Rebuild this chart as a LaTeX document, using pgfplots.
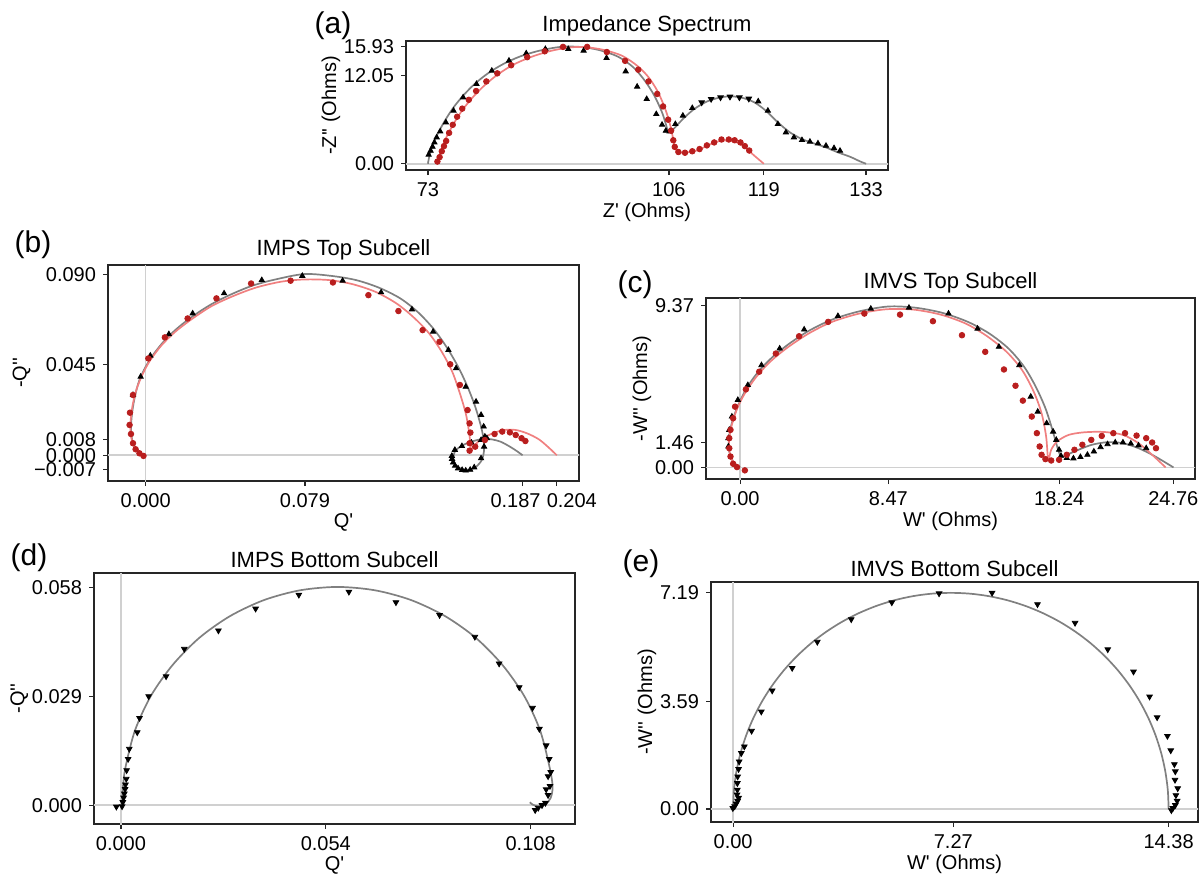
\documentclass[border=0pt]{standalone}
\usepackage{pgfplots}
\pgfplotsset{compat=1.18}
\usepackage{fontspec}
\setmainfont{Liberation Sans}
\definecolor{fitgray}{RGB}{128,128,128}
\definecolor{fitred}{RGB}{240,128,128}
\definecolor{ptred}{RGB}{185,30,30}
\definecolor{zerogray}{RGB}{208,208,208}
\newcommand{\sq}{\textquotesingle}
\tikzset{zl/.style={zerogray, line width=0.8pt}}
\pgfplotsset{
 panel/.style={scale only axis, anchor=south west,
   axis line style={black!85,line width=0.6pt},
   tick align=outside, tick pos=left, major tick length=2.5pt,
   every tick/.style={black!85,line width=0.6pt},
   tick label style={font=\fontsize{10}{12}\selectfont},
   label style={font=\fontsize{10}{12}\selectfont},
   title style={font=\fontsize{11}{13}\selectfont, yshift=-7pt},
   xlabel shift=-3.5pt, ylabel shift=-5pt,
   scaled ticks=false, clip=true},
 blk/.style={only marks, mark=triangle*, mark size=1.5pt, black},
 blkdn/.style={only marks, mark=triangle*, mark size=1.6pt, black, mark options={rotate=180}},
 redpt/.style={only marks, mark=*, mark size=1.4pt, ptred},
 grayfit/.style={no marks, smooth, tension=0.5, line width=0.85pt, fitgray},
 redfit/.style={no marks, smooth, tension=0.5, line width=0.85pt, fitred},
}
\begin{document}
\begin{tikzpicture}
\path[use as bounding box] (0,0) rectangle (601.5pt,-437.5pt);
\node[font=\fontsize{15}{18}\selectfont] at (166.5pt,-13pt) {(a)};
\node[font=\fontsize{15}{18}\selectfont] at (16.5pt,-122.5pt) {(b)};
\node[font=\fontsize{15}{18}\selectfont] at (317.5pt,-142.5pt) {(c)};
\node[font=\fontsize{15}{18}\selectfont] at (14.5pt,-279pt) {(d)};
\node[font=\fontsize{15}{18}\selectfont] at (320.5pt,-282pt) {(e)};

% ---------------- (a)
\begin{axis}[panel, at={(203pt,-85pt)}, width=241pt, height=64.5pt,
  xmin=70, xmax=136, ymin=-0.85, ymax=16.7,
  xtick={73,106,119,133}, xticklabels={73,106,119,133},
  ytick={0,12.05,15.93}, yticklabels={0.00,12.05,15.93},
  title={Impedance Spectrum}, xlabel={Z\sq{} (Ohms)}, ylabel={-Z\sq\sq{} (Ohms)}]
\draw[zl] (axis cs:0,0) -- (axis cs:200,0);
\addplot[blk] coordinates {(73.10,1.23) (73.37,1.77) (73.63,2.31) (73.89,2.90) (74.20,3.59) (74.68,4.40) (75.46,5.63) (76.51,7.22) (77.82,9.03) (79.65,10.85) (81.75,12.66) (84.10,14.03) (86.46,15.02) (89.08,15.61) (92.22,15.61) (94.32,15.39) (97.46,14.39) (100.08,12.57) (101.65,10.49) (102.96,8.81) (104.27,6.76) (105.06,5.31) (105.58,4.49) (106.10,4.40) (106.88,5.40) (107.91,6.54) (109.20,7.58) (118.23,8.49) (119.55,7.22) (120.92,5.40) (122.02,4.27) (123.12,3.59) (124.22,3.22) (125.31,3.00) (126.41,2.77) (127.51,2.45) (128.61,2.13) (129.43,1.77)};
\addplot[blkdn] coordinates {(110.49,8.35) (111.78,8.81) (113.07,9.03) (114.36,9.12) (115.65,9.03) (116.94,8.85)};
\addplot[redpt] coordinates {(74.3,0.3) (74.6,0.9) (74.9,1.7) (75.2,2.4) (75.5,3.1) (75.9,4.2) (76.4,5.3) (77.0,6.4) (77.7,7.5) (78.6,8.7) (79.6,9.9) (81.0,11.2) (82.5,12.3) (84.4,13.4) (86.6,14.5) (89.0,15.3) (91.5,15.9) (94.8,15.9) (97.5,15.2) (100.0,14.0) (101.8,12.8) (103.2,11.2) (104.4,9.5) (105.2,7.8) (105.9,6.0) (106.3,4.5) (106.6,3.2) (106.8,2.3) (107.3,1.6) (108.2,1.5) (109.2,1.7) (110.2,2.0) (111.2,2.5) (112.2,2.9) (113.2,3.3) (114.2,3.3) (115.0,3.2) (115.8,2.9) (116.4,2.4) (117.0,1.8)};
\addplot[grayfit] coordinates {(73.00,0.00) (73.16,0.86) (73.47,1.99) (74.00,3.36) (74.68,4.72) (75.46,6.08) (76.51,7.67) (77.82,9.26) (79.39,10.85) (81.22,12.30) (83.32,13.57) (85.68,14.62) (88.30,15.39) (91.18,15.90) (93.80,15.90) (96.41,15.48) (99.03,14.57) (101.13,13.12) (102.70,11.30) (104.01,9.26) (105.06,6.99) (105.58,5.40) (105.95,4.27) (106.62,4.72) (107.91,6.08) (109.46,7.44) (111.26,8.49) (113.07,9.03) (114.61,9.17) (116.16,8.94) (117.71,8.35) (119.27,7.22) (120.92,5.63) (122.57,4.27) (124.22,3.36) (125.86,2.77) (127.51,2.22) (129.16,1.54) (130.81,0.95) (132.18,0.32) (133.00,0.00)};
\addplot[redfit] coordinates {(74.31,0) (74.52,0.86) (74.83,1.86) (75.30,3.13) (75.99,4.49) (76.77,5.86) (77.82,7.44) (79.13,9.03) (80.70,10.62) (82.53,12.12) (84.63,13.44) (86.99,14.48) (89.60,15.30) (92.22,15.80) (94.32,15.88) (96.94,15.52) (99.55,14.71) (101.65,13.34) (103.22,11.76) (104.53,9.71) (105.58,7.22) (106.26,4.95) (106.62,3.13) (106.88,2.00) (107.39,1.54) (108.42,1.54) (109.97,1.86) (111.52,2.59) (113.07,3.13) (114.36,3.13) (115.65,2.77) (116.68,2.00) (117.71,1.09) (119.0,0)};
\end{axis}

% ---------------- (b)
\begin{axis}[panel, at={(54pt,-240.5pt)}, width=235.5pt, height=108pt,
  xmin=-0.0187, xmax=0.215, ymin=-0.0128, ymax=0.0947,
  xtick={0,0.079,0.187,0.204},
  xticklabels={0.000,0.079,\makebox[0pt]{\hspace*{-7pt}0.187},\makebox[0pt]{\hspace*{15pt}0.204}},
  ytick={-0.007,0,0.008,0.045,0.090}, yticklabels={−0.007,0.000,0.008,0.045,0.090},
  title={IMPS Top Subcell}, xlabel={Q\sq}, ylabel={-Q\sq\sq}]
\draw[zl] (axis cs:-1,0) -- (axis cs:1,0);
\draw[zl] (axis cs:0,-1) -- (axis cs:0,1);
\addplot[blk] coordinates {(-0.0063,0.0300) (-0.0025,0.0391) (0.0023,0.0496) (0.0115,0.0603) (0.0233,0.0706) (0.0389,0.0806) (0.0576,0.0872) (0.0777,0.0893) (0.0977,0.0869) (0.1168,0.0811) (0.1321,0.0726) (0.1426,0.0615) (0.1502,0.0524) (0.1540,0.0433) (0.1588,0.0341) (0.1639,0.0267) (0.1664,0.0201) (0.1677,0.0143) (0.1683,0.0093) (0.1679,0.0043) (0.1664,-0.0015) (0.1630,-0.0060) (0.1610,-0.0072) (0.1588,-0.0076) (0.1570,-0.0073) (0.1550,-0.0065) (0.1535,-0.0052) (0.1525,-0.0036) (0.1519,-0.0003) (0.1520,-0.0018) (0.1534,0.0027) (0.1569,0.0046) (0.1616,0.0063) (0.1664,0.0076) (0.1693,0.0085)};
\addplot[redpt] coordinates {(-0.0011,-0.0003) (-0.0031,0.0010) (-0.0050,0.0030) (-0.0063,0.0060) (-0.0073,0.0106) (-0.0080,0.0151) (-0.0078,0.0212) (-0.0063,0.0300) (0.0013,0.0482) (0.0095,0.0587) (0.0208,0.0681) (0.0351,0.0781) (0.0523,0.0855) (0.0719,0.0869) (0.0929,0.0860) (0.1105,0.0797) (0.1254,0.0718) (0.1374,0.0623) (0.1458,0.0565) (0.1511,0.0453) (0.1559,0.0350) (0.1597,0.0225) (0.1607,0.0159) (0.1611,0.0113) (0.1607,0.0060) (0.1607,0.0023) (0.1635,0.0043) (0.1683,0.0076) (0.1731,0.0106) (0.1769,0.0118) (0.1807,0.0114) (0.1836,0.0101) (0.1865,0.0085) (0.1884,0.0071)};
\addplot[grayfit] coordinates {(0.0000,0.0000) (-0.0031,0.0013) (-0.0053,0.0040) (-0.0067,0.0076) (-0.0073,0.0126) (-0.0071,0.0176) (-0.0063,0.0242) (-0.0050,0.0308) (-0.0031,0.0375) (0.0000,0.0441) (0.0042,0.0507) (0.0099,0.0577) (0.0166,0.0640) (0.0242,0.0698) (0.0328,0.0753) (0.0424,0.0801) (0.0529,0.0844) (0.0643,0.0875) (0.0786,0.0902) (0.0920,0.0893) (0.1044,0.0872) (0.1158,0.0834) (0.1263,0.0781) (0.1349,0.0714) (0.1426,0.0632) (0.1492,0.0540) (0.1550,0.0441) (0.1597,0.0341) (0.1635,0.0242) (0.1664,0.0143) (0.1677,0.0076) (0.1679,0.0027) (0.1668,-0.0023) (0.1635,-0.0060) (0.1588,-0.0073) (0.1546,-0.0056) (0.1527,-0.0023) (0.1534,0.0018) (0.1565,0.0046) (0.1611,0.0066) (0.1664,0.0080) (0.1712,0.0080) (0.1760,0.0068) (0.1802,0.0046) (0.1840,0.0022) (0.1870,0.0000)};
\addplot[redfit] coordinates {(-0.0011,0.0000) (-0.0034,0.0013) (-0.0057,0.0043) (-0.0071,0.0085) (-0.0076,0.0134) (-0.0073,0.0192) (-0.0063,0.0259) (-0.0044,0.0333) (-0.0015,0.0404) (0.0023,0.0474) (0.0080,0.0549) (0.0147,0.0615) (0.0233,0.0681) (0.0328,0.0743) (0.0433,0.0792) (0.0548,0.0835) (0.0672,0.0864) (0.0786,0.0875) (0.0910,0.0872) (0.1025,0.0852) (0.1139,0.0814) (0.1244,0.0756) (0.1330,0.0686) (0.1406,0.0607) (0.1469,0.0515) (0.1521,0.0416) (0.1559,0.0308) (0.1588,0.0209) (0.1603,0.0126) (0.1611,0.0060) (0.1616,0.0023) (0.1630,0.0046) (0.1664,0.0080) (0.1721,0.0109) (0.1779,0.0126) (0.1836,0.0126) (0.1893,0.0109) (0.1950,0.0080) (0.1998,0.0040) (0.2040,0.0000)};
\end{axis}

% ---------------- (c)
\begin{axis}[panel, at={(353pt,-239.5pt)}, width=244.5pt, height=90.5pt,
  xmin=-1.95, xmax=26.0, ymin=-0.67, ymax=9.79,
  xtick={0,8.47,18.24,24.76}, xticklabels={0.00,8.47,18.24,24.76},
  ytick={0,1.46,9.37}, yticklabels={0.00,1.46,9.37},
  title={IMVS Top Subcell}, xlabel={W\sq{} (Ohms)}, ylabel={-W\sq\sq{} (Ohms)}]
\draw[zl] (axis cs:-100,0) -- (axis cs:100,0);
\draw[zl] (axis cs:0,-100) -- (axis cs:0,100);
\addplot[blk] coordinates {(-0.67,1.21) (-0.67,1.69) (-0.62,2.17) (-0.47,2.94) (-0.13,3.90) (0.44,4.76) (1.22,5.91) (2.26,6.87) (3.66,7.97) (5.59,8.75) (7.47,9.17) (9.65,9.23) (11.91,8.89) (13.57,8.02) (14.79,6.97) (15.96,5.91) (16.61,4.09) (17.01,3.22) (17.52,2.55) (17.89,2.07) (18.07,1.59) (18.23,1.02) (18.34,0.67) (18.67,0.54) (19.05,0.52) (19.45,0.60) (19.85,0.73) (20.22,0.92) (20.60,1.17) (21.00,1.34) (21.44,1.44) (21.88,1.44) (22.33,1.38) (22.77,1.27) (23.21,1.11)};
\addplot[redpt] coordinates {(0.27,-0.17) (-0.18,0.02) (-0.40,0.21) (-0.55,0.63) (-0.62,1.11) (-0.62,1.69) (-0.55,2.17) (-0.40,2.84) (-0.29,3.51) (0.33,4.51) (1.09,5.53) (2.04,6.58) (3.37,7.58) (5.03,8.41) (7.10,8.89) (9.14,8.83) (11.02,8.45) (12.68,7.64) (14.01,6.68) (15.08,5.66) (15.74,4.72) (16.16,3.86) (16.67,2.94) (16.96,1.98) (17.12,1.21) (17.23,0.73) (17.45,0.48) (17.78,0.40) (18.23,0.44) (18.67,0.73) (19.11,1.02) (19.56,1.31) (20.07,1.59) (20.67,1.82) (21.33,1.98) (22.00,1.98) (22.66,1.84) (23.21,1.69) (23.55,1.44) (23.77,1.11)};
\addplot[grayfit] coordinates {(0.00,0.00) (-0.29,0.21) (-0.51,0.54) (-0.64,1.02) (-0.64,1.59) (-0.55,2.26) (-0.33,3.03) (-0.02,3.80) (0.42,4.66) (1.04,5.53) (1.82,6.35) (2.82,7.16) (3.92,7.89) (5.25,8.54) (6.81,9.02) (8.47,9.30) (10.02,9.23) (11.57,8.93) (13.02,8.41) (14.24,7.74) (15.34,6.87) (16.23,5.82) (16.90,4.66) (17.45,3.42) (17.85,2.17) (18.12,1.21) (18.34,0.63) (18.67,0.73) (19.34,1.02) (20.11,1.31) (21.00,1.46) (21.88,1.40) (22.77,1.11) (23.66,0.67) (24.77,0.00)};
\addplot[redfit] coordinates {(-0.07,0.00) (-0.35,0.25) (-0.55,0.63) (-0.64,1.21) (-0.60,1.88) (-0.44,2.59) (-0.16,3.42) (0.27,4.28) (0.93,5.24) (1.71,6.10) (2.71,6.93) (3.92,7.74) (5.25,8.41) (6.81,8.89) (8.36,9.14) (9.91,9.12) (11.46,8.83) (12.90,8.31) (14.12,7.58) (15.23,6.68) (16.12,5.62) (16.78,4.38) (17.23,3.13) (17.49,1.79) (17.61,0.44) (17.78,1.02) (18.12,1.50) (18.78,1.88) (19.67,2.03) (20.78,2.05) (21.88,1.88) (22.77,1.40) (23.55,0.73) (24.32,0.00)};
\end{axis}

% ---------------- (d)
\begin{axis}[panel, at={(47pt,-412pt)}, width=240.5pt, height=125.5pt,
  xmin=-0.0071, xmax=0.1197, ymin=-0.0050, ymax=0.0618,
  xtick={0,0.054,0.108}, xticklabels={0.000,0.054,0.108},
  ytick={0,0.029,0.058}, yticklabels={0.000,0.029,0.058},
  title={IMPS Bottom Subcell}, xlabel={Q\sq}, ylabel={-Q\sq\sq}]
\draw[zl] (axis cs:-1,0) -- (axis cs:1,0);
\draw[zl] (axis cs:0,-1) -- (axis cs:0,1);
\addplot[blkdn] coordinates {(-0.0012,-0.0004) (0.0003,-0.0003) (0.0005,0.0008) (0.0007,0.0020) (0.0009,0.0031) (0.0011,0.0043) (0.0012,0.0055) (0.0014,0.0070) (0.0015,0.0093) (0.0019,0.0123) (0.0022,0.0150) (0.0043,0.0194) (0.0049,0.0232) (0.0073,0.0290) (0.0119,0.0343) (0.0167,0.0416) (0.0257,0.0465) (0.0355,0.0523) (0.0469,0.0560) (0.0601,0.0568) (0.0725,0.0540) (0.0840,0.0506) (0.0933,0.0448) (0.0997,0.0377) (0.1050,0.0314) (0.1085,0.0259) (0.1103,0.0203) (0.1121,0.0159) (0.1129,0.0123) (0.1133,0.0088) (0.1126,0.0077) (0.1131,0.0051) (0.1121,0.0042) (0.1126,0.0027) (0.1119,0.0006) (0.1110,0.0000) (0.1100,-0.0007) (0.1092,-0.0013)};
\addplot[grayfit] coordinates {(0.0003,0.0000) (0.0005,0.0045) (0.0012,0.0101) (0.0037,0.0199) (0.0079,0.0291) (0.0136,0.0373) (0.0206,0.0445) (0.0287,0.0503) (0.0377,0.0546) (0.0472,0.0572) (0.0571,0.0581) (0.0670,0.0572) (0.0765,0.0546) (0.0855,0.0503) (0.0936,0.0445) (0.1006,0.0373) (0.1063,0.0291) (0.1105,0.0199) (0.1130,0.0101) (0.1138,0.0050) (0.1133,0.0020) (0.1120,0.0003) (0.1100,-0.0003) (0.1085,0.0002) (0.1078,0.0008)};
\end{axis}

% ---------------- (e)
\begin{axis}[panel, at={(355.5pt,-411pt)}, width=243.5pt, height=120pt,
  xmin=-0.73, xmax=15.35, ymin=-0.43, ymax=7.55,
  xtick={0,7.27,14.38}, xticklabels={0.00,7.27,14.38},
  ytick={0,3.59,7.19}, yticklabels={0.00,3.59,7.19},
  title={IMVS Bottom Subcell}, xlabel={W\sq{} (Ohms)}, ylabel={-W\sq\sq{} (Ohms)}]
\draw[zl] (axis cs:-100,0) -- (axis cs:100,0);
\draw[zl] (axis cs:0,-100) -- (axis cs:0,100);
\addplot[blkdn] coordinates {(-0.01,0.03) (0.05,0.09) (0.10,0.18) (0.15,0.27) (0.18,0.37) (0.13,0.48) (0.14,0.64) (0.14,0.86) (0.15,1.08) (0.18,1.33) (0.20,1.58) (0.27,1.86) (0.37,2.08) (0.61,2.60) (0.93,3.24) (1.29,3.94) (1.95,4.69) (2.78,5.56) (3.90,6.31) (5.24,6.87) (6.80,7.17) (8.55,7.19) (10.05,6.81) (11.29,6.19) (12.37,5.31) (13.22,4.57) (13.75,3.74) (14.00,3.05) (14.34,2.43) (14.45,1.95) (14.57,1.49) (14.60,1.25) (14.59,0.97) (14.68,0.69) (14.62,0.46) (14.66,0.27) (14.60,0.13) (14.52,0.03) (14.47,-0.04)};
\addplot[grayfit] coordinates {(0,0) (0.027,0.627) (0.109,1.248) (0.245,1.861) (0.434,2.459) (0.674,3.039) (0.963,3.595) (1.300,4.124) (1.682,4.622) (2.106,5.084) (2.568,5.508) (3.066,5.890) (3.595,6.227) (4.152,6.516) (4.731,6.756) (5.329,6.945) (5.942,7.081) (6.563,7.163) (7.19,7.19) (7.817,7.163) (8.438,7.081) (9.051,6.945) (9.649,6.756) (10.228,6.516) (10.785,6.227) (11.314,5.890) (11.812,5.508) (12.274,5.084) (12.698,4.622) (13.080,4.124) (13.417,3.595) (13.706,3.039) (13.946,2.459) (14.135,1.861) (14.271,1.248) (14.353,0.627) (14.38,0)};
\end{axis}
\end{tikzpicture}
\end{document}
